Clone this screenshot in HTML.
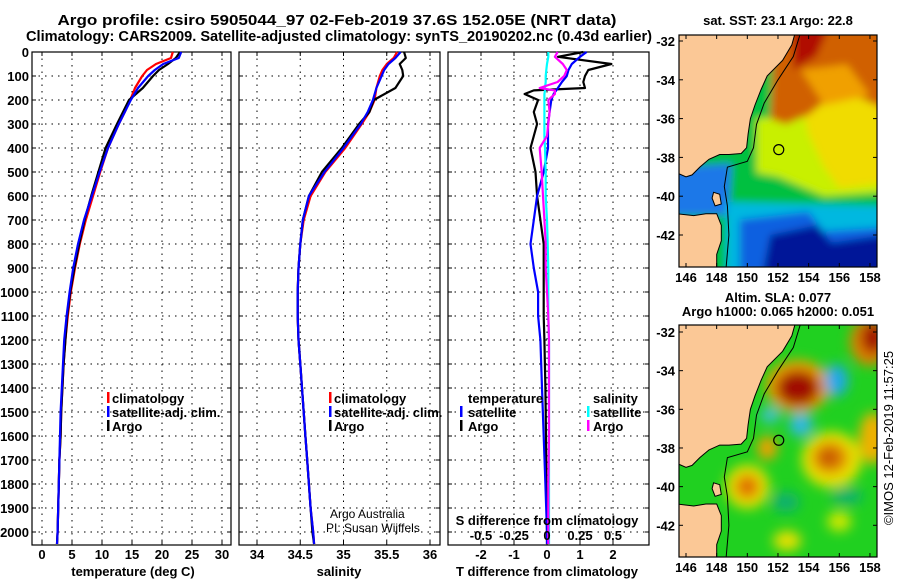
<!DOCTYPE html>
<html><head><meta charset="utf-8"><style>
body{margin:0;background:#fff;}
svg{display:block;font-family:"Liberation Sans",sans-serif;}
.t{font-weight:bold;font-size:13px;}
</style></head><body>
<svg id="c" width="900" height="580" viewBox="0 0 900 580" xmlns="http://www.w3.org/2000/svg">
<defs>
<filter id="bl" x="-10%" y="-10%" width="120%" height="120%"><feGaussianBlur stdDeviation="4"/></filter>
<filter id="bl2" x="-30%" y="-30%" width="160%" height="160%"><feGaussianBlur stdDeviation="6"/></filter>
<clipPath id="cm1"><rect x="679" y="35" width="198" height="232"/></clipPath>
<clipPath id="cm2"><rect x="679" y="325" width="198" height="232"/></clipPath>
</defs>
<text x="337" y="25" text-anchor="middle" font-size="15" font-weight="bold" textLength="559" lengthAdjust="spacingAndGlyphs">Argo profile: csiro 5905044_97 02-Feb-2019 37.6S 152.05E (NRT data)</text>
<text x="339" y="41" text-anchor="middle" font-size="14.5" font-weight="bold" textLength="626" lengthAdjust="spacingAndGlyphs">Climatology: CARS2009. Satellite-adjusted climatology: synTS_20190202.nc (0.43d earlier)</text>
<g id="g"></g>
</svg>
<script>
const depths=[0,25,50,75,100,150,200,250,300,400,500,600,700,800,900,1000,1100,1200,1300,1400,1500,1600,1700,1800,1900,2000,2050];
const tempClim=[21.8,21.5,19,17.5,16.7,15.5,14.7,13.8,12.8,11,9.7,8.5,7.3,6.3,5.5,4.8,4.3,3.9,3.6,3.4,3.2,3.1,2.9,2.8,2.7,2.6,2.5];
const tempArgo=[23,22.3,21,19.5,18.5,16.8,14.5,13.5,12.5,10.6,9.4,8.2,7.1,6.2,5.4,4.7,4.2,3.9,3.6,3.4,3.2,3.1,2.9,2.8,2.7,2.6,2.5];
const tempSat=[23.2,22.8,20.2,18.8,17.7,16,14.8,13.8,12.8,11,9.6,8.3,7.0,6.0,5.2,4.6,4.1,3.7,3.5,3.3,3.1,3.0,2.9,2.8,2.7,2.6,2.5];
const salClim=[35.62,35.58,35.5,35.45,35.42,35.38,35.36,35.3,35.21,35.02,34.79,34.62,34.54,34.5,34.48,34.47,34.47,34.48,34.5,34.52,34.54,34.56,34.58,34.6,34.62,34.65,34.66];
const salArgo=[35.7,35.72,35.65,35.68,35.69,35.6,35.35,35.3,35.18,34.98,34.75,34.6,34.53,34.5,34.48,34.47,34.47,34.48,34.5,34.52,34.54,34.56,34.58,34.6,34.62,34.64,34.66];
const salSat=[35.66,35.6,35.52,35.47,35.44,35.38,35.34,35.28,35.2,35.0,34.78,34.6,34.53,34.5,34.48,34.47,34.47,34.48,34.5,34.52,34.54,34.56,34.58,34.6,34.62,34.65,34.66];
const diffDepths=[0,20,50,75,100,125,150,160,175,200,250,300,350,400,500,600,700,800,900,1000,1100,1200,1400,1600,1800,2000,2050];
const tDiffArgo=[1.1,0.33,1.95,1.25,1.15,1.1,1.15,-0.4,-0.68,-0.27,-0.4,-0.3,-0.4,-0.5,-0.35,-0.3,-0.2,-0.1,-0.1,-0.1,-0.1,-0.08,-0.05,-0.03,-0.02,0.0,0.0];
const tDiffSat=[1.2,1.0,0.75,0.65,0.6,0.45,0.33,0.28,0.2,0.13,0.08,0.03,0.03,0.03,-0.1,-0.3,-0.4,-0.5,-0.4,-0.27,-0.27,-0.2,-0.15,-0.1,-0.05,0.0,0.0];
const sDiffArgo=[0.08,0.06,0.12,0.15,0.13,0.08,-0.055,0.06,0.06,0.01,0.02,0.01,0.0,-0.055,-0.04,-0.03,-0.02,-0.01,-0.01,0.0,0.01,0.015,0.015,0.015,0.01,0.01,0.01];
const sDiffSat=[0.01,0.01,0.0,-0.005,-0.01,-0.01,-0.015,-0.015,-0.02,-0.02,-0.02,-0.02,-0.02,-0.015,-0.01,-0.01,0,0.005,0.01,0.01,0.01,0.015,0.015,0.015,0.015,0.015,0.015];
const depthTicks=[0,100,200,300,400,500,600,700,800,900,1000,1100,1200,1300,1400,1500,1600,1700,1800,1900,2000];
const tempTicks=[0,5,10,15,20,25,30];
const salTicks=[34,34.5,35,35.5,36];
const tdTicks=[-2,-1,0,1,2];
const sdTicks=[-0.5,-0.25,0,0.25,0.5];
const sdTickLabels=["-0.5","-0.25","0","0.25","0.5"];

const NS="http://www.w3.org/2000/svg";
const G=document.getElementById('g');
function mk(tag,attrs,parent,txt){const e=document.createElementNS(NS,tag);for(const k in attrs)e.setAttribute(k,attrs[k]);if(txt!==undefined)e.textContent=txt;(parent||G).appendChild(e);return e;}
const Y0=52,PY=0.24,YB=545;
const yD=d=>Y0+d*PY;
const xT=v=>42+v*6;
const xS=v=>257+(v-34)*86.5;
const xTD=v=>547+v*33;
const xSD=v=>547+v*132;

function frame(x0,x1,name,xs,ticks,labels){
  const g=mk('g',{});
  
  
  depthTicks.forEach(d=>{mk('line',{x1:x0,x2:x1,y1:yD(d),y2:yD(d),stroke:'#000','stroke-dasharray':'1.5,5','stroke-width':1},g);
    mk('line',{x1:x0,x2:x0+4,y1:yD(d),y2:yD(d),stroke:'#000'},g);mk('line',{x1:x1-4,x2:x1,y1:yD(d),y2:yD(d),stroke:'#000'},g);});
  ticks.forEach((t,i)=>{const x=xs(t);mk('line',{x1:x,x2:x,y1:Y0,y2:YB,stroke:'#000','stroke-dasharray':'1.5,5'},g);
    mk('line',{x1:x,x2:x,y1:Y0,y2:Y0+4,stroke:'#000'},g);mk('line',{x1:x,x2:x,y1:YB-4,y2:YB,stroke:'#000'},g);
    const tl=mk('text',{x:x,y:559,'text-anchor':'middle',class:'t'},g,labels?labels[i]:String(t));
    
    });
  mk('rect',{x:x0,y:Y0,width:x1-x0,height:YB-Y0,fill:'none',stroke:'#000','stroke-width':1.2},g);
  return g;
}
function line(xs,xv,dv,col,name,g){
  const pts=xv.map((v,i)=>xs(v).toFixed(1)+','+yD(dv[i]).toFixed(1)).join(' ');
  const p=mk('polyline',{points:pts,fill:'none',stroke:col,'stroke-width':2.2,'stroke-linejoin':'round'},g);
  
  
}
const p1=frame(32,231,'temperature-panel',xT,tempTicks);
depthTicks.forEach(d=>{const t=mk('text',{x:29,y:yD(d)+5,'text-anchor':'end',class:'t'},G,String(d));
  
  });
line(xT,tempClim,depths,'#f00','temp-climatology-line',p1);
line(xT,tempArgo,depths,'#000','temp-argo-line',p1);
line(xT,tempSat,depths,'#00f','temp-satellite-line',p1);
const p2=frame(239,440,'salinity-panel',xS,salTicks);
line(xS,salClim,depths,'#f00','sal-climatology-line',p2);
line(xS,salArgo,depths,'#000','sal-argo-line',p2);
line(xS,salSat,depths,'#00f','sal-satellite-line',p2);
const p3=frame(448,649,'difference-panel',xTD,tdTicks);
line(xTD,tDiffArgo,diffDepths,'#000','tdiff-argo-line',p3);
line(xTD,tDiffSat,diffDepths,'#00f','tdiff-satellite-line',p3);
line(xSD,sDiffSat,diffDepths,'#0ff','sdiff-satellite-line',p3);
line(xSD,sDiffArgo,diffDepths,'#f0f','sdiff-argo-line',p3);
sdTicks.forEach((t,i)=>{const tl=mk('text',{x:xSD(t),y:540,'text-anchor':'middle',class:'t'},p3,sdTickLabels[i]);
  
  });
</script>
<script>
(function(){
const S=document.getElementById('c');
function T(x,y,s,name,extra){const e=document.createElementNS("http://www.w3.org/2000/svg",'text');e.setAttribute('x',x);e.setAttribute('y',y);e.setAttribute('class','t');if(extra)for(const k in extra)e.setAttribute(k,extra[k]);e.textContent=s;


S.appendChild(e);return e;}
function B(x,y,col,name){const e=document.createElementNS("http://www.w3.org/2000/svg",'rect');e.setAttribute('x',x);e.setAttribute('y',y-11);e.setAttribute('width',2.5);e.setAttribute('height',11);e.setAttribute('fill',col);


S.appendChild(e);}
T(133,576,'temperature (deg C)','x-axis-title-temperature',{'text-anchor':'middle'});
T(339,576,'salinity','x-axis-title-salinity',{'text-anchor':'middle'});
T(547,576,'T difference from climatology','x-axis-title-t-diff',{'text-anchor':'middle'});
T(547,525,'S difference from climatology','s-diff-axis-title',{'text-anchor':'middle'});
B(107,403,'#f00','legend-swatch-climatology');T(112,403,'climatology','legend-climatology');
B(107,417,'#00f','legend-swatch-satellite');T(112,417,'satellite-adj. clim.','legend-satellite');
B(107,431,'#000','legend-swatch-argo');T(112,431,'Argo','legend-argo');
B(329,403,'#f00','legend-swatch-climatology-2');T(334,403,'climatology','legend-climatology-2');
B(329,417,'#00f','legend-swatch-satellite-2');T(334,417,'satellite-adj. clim.','legend-satellite-2');
B(329,431,'#000','legend-swatch-argo-2');T(334,431,'Argo','legend-argo-2');
T(468,403,'temperature','legend-temperature-heading');
B(460,417,'#00f','legend-swatch-t-sat');T(468,417,'satellite','legend-t-satellite');
B(460,431,'#000','legend-swatch-t-argo');T(468,431,'Argo','legend-t-argo');
T(593,403,'salinity','legend-salinity-heading');
B(587,417,'#0ff','legend-swatch-s-sat');T(593,417,'satellite','legend-s-satellite');
B(587,431,'#f0f','legend-swatch-s-argo');T(593,431,'Argo','legend-s-argo');
const a=T(330,518,'Argo Australia','credit-argo-australia');a.setAttribute('class','');a.setAttribute('font-size','12');
const b=T(326,532,'PI: Susan Wijffels','credit-pi');b.setAttribute('class','');b.setAttribute('font-size','12');
T(778,25,'sat. SST: 23.1 Argo: 22.8','sst-map-title',{'text-anchor':'middle'});
T(778,302,'Altim. SLA: 0.077','sla-map-title',{'text-anchor':'middle'});
T(778,316,'Argo h1000: 0.065 h2000: 0.051','sla-map-subtitle',{'text-anchor':'middle'});
const c=T(0,0,'©IMOS 12-Feb-2019 11:57:25','imos-stamp',{'text-anchor':'middle',transform:'translate(893,438) rotate(-90)'});c.setAttribute('class','');c.setAttribute('font-size','13');
})();
</script>
<script>
(function(){
const NS="http://www.w3.org/2000/svg";
const S=document.getElementById('c');
function mk(tag,attrs,parent){const e=document.createElementNS(NS,tag);for(const k in attrs)e.setAttribute(k,attrs[k]);parent.appendChild(e);return e;}
const X=lon=>686+(lon-146)*15.33;
const land=[[145.4,-31.5],[153.15,-31.5],[152.9,-32.2],[152.3,-33],[151.3,-33.8],[150.9,-34.5],[150.5,-35.3],[150.2,-36],[150.05,-36.8],[149.95,-37.5],[149.6,-37.8],[148.8,-37.85],[148.2,-37.85],[147.5,-38.1],[146.9,-38.5],[146.4,-38.9],[146.0,-39.0],[145.4,-38.8]];
const tas=[[145.4,-40.9],[146.5,-41.0],[147.3,-40.9],[148.0,-40.9],[148.3,-41.5],[148.3,-42.3],[148.0,-43.0],[148,-43.8],[145.4,-43.8]];
const fli=[[147.8,-39.8],[148.2,-39.9],[148.3,-40.4],[147.9,-40.5],[147.7,-40.1]];
const shelf=[[153.5,-31.5],[153.0,-32.8],[152.0,-34.0],[151.1,-35.2],[150.6,-36.3],[150.4,-37.5],[150.0,-38.2],[148.7,-38.5],[148.5,-39.5],[148.7,-40.5],[148.8,-42],[148.6,-43.8]];
function map(y0,Y,clip,name,fill){
  const g=mk('g',{'clip-path':'url(#'+clip+')'},S);
  
  
  const P=a=>a.map(p=>X(p[0]).toFixed(1)+','+Y(p[1]).toFixed(1)).join(' ');
  fill(g,P,Y);
  [land,tas,fli].forEach(l=>mk('polygon',{points:P(l),fill:'#fbc896',stroke:'#000','stroke-width':1},g));
  mk('polyline',{points:P(shelf),fill:'none',stroke:'#000','stroke-width':1},g);
  mk('circle',{cx:X(152.05),cy:Y(-37.6),r:5,fill:'none',stroke:'#000','stroke-width':1.2},g);
  mk('rect',{x:679,y:y0,width:198,height:232,fill:'none',stroke:'#000','stroke-width':1.2},S);
  [-32,-34,-36,-38,-40,-42].forEach(l=>{const t=mk('text',{x:675,y:Y(l)+5,'text-anchor':'end',class:'t'},S);t.textContent=String(l);
    
    
    mk('line',{x1:679,x2:683,y1:Y(l),y2:Y(l),stroke:'#000'},S);mk('line',{x1:873,x2:877,y1:Y(l),y2:Y(l),stroke:'#000'},S);});
  [146,148,150,152,154,156,158].forEach(l=>{const t=mk('text',{x:X(l),y:y0+247,'text-anchor':'middle',class:'t'},S);t.textContent=String(l);
    
    
    mk('line',{x1:X(l),x2:X(l),y1:y0,y2:y0+4,stroke:'#000'},S);mk('line',{x1:X(l),x2:X(l),y1:y0+228,y2:y0+232,stroke:'#000'},S);});
}
map(35,lat=>41+(-32-lat)*19.4,'cm1','sst-map',(g,P)=>{
  const b=mk('g',{filter:'url(#bl)'},g);
  const poly=(a,c)=>mk('polygon',{points:P(a),fill:c},b);
  poly([[145,-31],[159,-31],[159,-44],[145,-44]],'#00c040');
  poly([[145,-38.5],[149,-38.3],[148.8,-41],[145,-41]],'#1a78e8');
  poly([[148.6,-40.3],[159,-40.5],[159,-44],[148.6,-44]],'#00b8e0');
  poly([[149.5,-41.2],[154,-40.8],[155,-41.8],[159,-41.6],[159,-44],[149.5,-44]],'#1060e0');
  poly([[151.5,-42],[154.5,-41.5],[155.5,-42.4],[159,-42],[159,-44],[151,-44]],'#001898');
  poly([[150.6,-36],[159,-35.5],[159,-39.8],[155,-40],[152,-39],[150.6,-38.8]],'#c8f000');
  poly([[153.5,-35],[159,-34.5],[159,-39.3],[156,-39.6],[155,-38.5],[154,-36.8]],'#f0dc00');
  poly([[151.8,-31],[159,-31],[159,-35.5],[156,-34.5],[154,-35.8],[152.5,-36.3],[151.5,-36]],'#d06000');
  poly([[153.5,-33.5],[156.5,-33.2],[158,-34.8],[155,-35.3]],'#f0a000');
  poly([[153,-31],[155.5,-31],[154.5,-32.8],[153,-33.5]],'#b01000');
});
map(325,lat=>332+(-32-lat)*19.33,'cm2','sla-map',(g,P,Y)=>{
  mk('rect',{x:679,y:325,width:198,height:232,fill:'#20d020'},g);
  const b=mk('g',{filter:'url(#bl2)'},g);
  const el=(lon,lat,rx,ry,c)=>mk('ellipse',{cx:X(lon),cy:Y(lat),rx:rx,ry:ry,fill:c},b);
  el(155.5,-38.6,30,28,'#e8e000');el(155.4,-38.5,18,16,'#e08000');el(155.3,-38.5,8,8,'#c05000');
  el(150,-40,22,22,'#e8e000');el(150,-40,12,12,'#e07000');
  el(153.3,-34.8,32,26,'#f0a000');el(153.3,-34.9,22,18,'#a01000');
  el(158,-32.5,20,24,'#e08000');el(158.2,-32.3,12,16,'#a01000');
  el(158.2,-37.5,14,26,'#f0b000');
  el(151.3,-38,10,12,'#f0a000');
  el(153.5,-36.8,12,12,'#30b8e0');el(151.5,-36.3,10,8,'#40c0d0');el(155.8,-34.5,12,16,'#20a8e8');
  el(152.6,-42.8,14,10,'#e8e000');el(156,-41.8,12,10,'#d0e800');
  el(156.5,-40.5,16,8,'#10b070');el(152.5,-40.8,14,10,'#10b070');
});
})();
</script>
</body></html>
